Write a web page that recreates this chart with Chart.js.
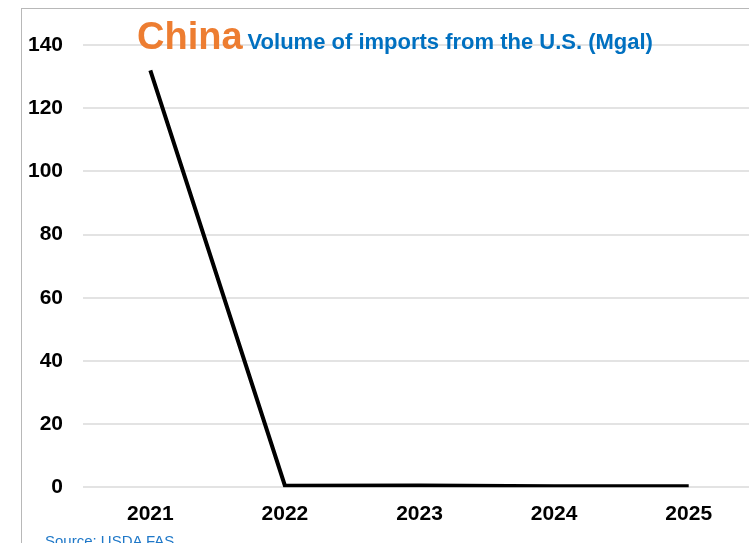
<!DOCTYPE html>
<html>
<head>
<meta charset="utf-8">
<title>China - Volume of imports from the U.S. (Mgal)</title>
<script src="https://cdn.jsdelivr.net/npm/chart.js"></script>
<style>
  html, body { margin: 0; padding: 0; background: #fff; overflow: hidden; }
  body { width: 749px; height: 543px; position: relative; font-family: "Liberation Sans", Arial, sans-serif; }
  #frame { position: absolute; left: 21px; top: 8px; width: 800px; height: 600px; border-left: 1px solid #b8b8b8; border-top: 1px solid #b8b8b8; }
  #wrap { position: absolute; left: 0; top: 0; width: 756px; height: 543px; }
  #title { position: absolute; left: 137px; top: 15px; display: flex; align-items: baseline; white-space: nowrap; font-weight: bold; }
  #title .country { color: #ED7D31; font-size: 38px; }
  #title .sub { color: #0070C0; font-size: 22px; margin-left: 5px; }
  #source { position: absolute; left: 45px; top: 532px; color: #1f78c8; font-size: 15px; white-space: nowrap; }
</style>
</head>
<body>
<div id="frame"></div>
<div id="wrap"><canvas id="chart"></canvas></div>
<div id="title"><span class="country">China</span><span class="sub">Volume of imports from the U.S. (Mgal)</span></div>
<div id="source">Source: USDA FAS</div>

<script>
// data
const years = ['2021', '2022', '2023', '2024', '2025'];
const imports = [132, 0.5, 0.6, 0.3, 0.3]; // Mgal
const yTicks = [0, 20, 40, 60, 80, 100, 120, 140];

const tickFont = { family: '"Liberation Sans", Arial, sans-serif', size: 21, weight: 'bold' };

new Chart(document.getElementById('chart'), {
  type: 'line',
  data: {
    labels: years,
    datasets: [{
      label: 'Volume of imports from the U.S. (Mgal)',
      data: imports,
      borderColor: '#000',
      borderWidth: 4,
      pointRadius: 0,
      tension: 0,
      fill: false
    }]
  },
  options: {
    responsive: true,
    maintainAspectRatio: false,
    animation: false,
    layout: { padding: { left: 8, top: 45, right: 0, bottom: 2.5 } },
    plugins: { legend: { display: false }, tooltip: { enabled: false }, title: { display: false } },
    scales: {
      x: {
        offset: true,
        grid: { display: false, drawTicks: false },
        border: { display: false },
        ticks: { color: '#000', font: tickFont, padding: 14, maxRotation: 0 }
      },
      y: {
        min: 0,
        max: 140,
        afterBuildTicks: axis => { axis.ticks = yTicks.map(v => ({ value: v })); },
        grid: { color: '#e3e3e3', lineWidth: 2, drawTicks: false },
        border: { display: false },
        ticks: { color: '#000', font: tickFont, padding: 20 }
      }
    }
  }
});
</script>
</body>
</html>
